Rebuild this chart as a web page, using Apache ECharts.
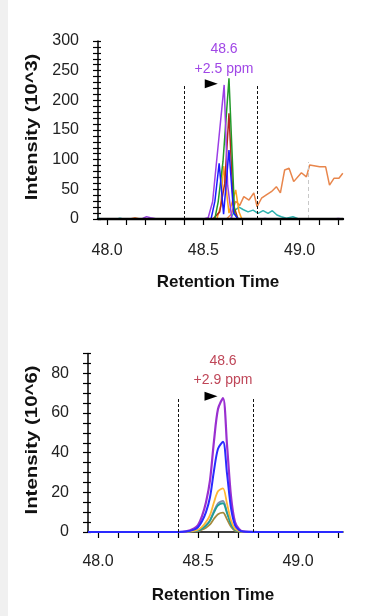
<!DOCTYPE html>
<html>
<head>
<meta charset="utf-8">
<script src="https://cdn.jsdelivr.net/npm/echarts@6/dist/echarts.min.js"></script>
<style>
  html, body { margin: 0; padding: 0; background: #ffffff; }
  #chart { width: 365px; height: 616px; }
</style>
</head>
<body>
<div id="chart"></div>
<script>
// ---- Upper panel: fragment ion chromatograms (intensity in 10^3) ----
const ms2Purple_t = [47.953, 48.15, 48.185, 48.205, 48.225, 48.26, 48.50, 48.525, 48.548, 48.608, 48.626, 48.648, 48.70, 48.80, 48.82, 48.84, 49.18, 49.20, 49.225];
const ms2Purple_v = [0, 0, 1, 4, 2, 0, 0, 2, 29, 226, 57, 0, 0, 0, 1, 0, 0, 1, 0];
const ms2Green_t = [47.953, 48.54, 48.56, 48.577, 48.602, 48.633, 48.662, 48.68, 49.225];
const ms2Green_v = [0, 0, 1, 29, 97, 237, 10, 0, 0];
const ms2Red_t = [47.953, 48.55, 48.585, 48.611, 48.633, 48.655, 48.68, 49.225];
const ms2Red_v = [0, 0, 12, 60, 178, 25, 0, 0];
const ms2Blue_t = [47.953, 48.54, 48.56, 48.582, 48.605, 48.633, 48.657, 48.68, 49.225];
const ms2Blue_v = [0, 0, 30, 94, 8, 116, 10, 0, 0];
const ms2Amber_t = [47.953, 48.57, 48.59, 48.605, 48.633, 48.668, 48.685, 48.70, 49.225];
const ms2Amber_v = [0, 0, 22, 89, 10, 49, 12, 0, 0];
const ms2Sienna_t = [47.953, 48.12, 48.145, 48.17, 48.62, 48.645, 48.668, 48.689, 48.71, 48.737, 48.762, 48.779, 48.802, 48.827, 48.853, 48.879, 48.900, 48.922, 48.945, 48.969, 49.009, 49.035, 49.052, 49.104, 49.135, 49.155, 49.178, 49.204, 49.224];
const ms2Sienna_v = [0, 0, 2, 0, 0, 8, 30, 23, 37.6, 32, 44, 20.7, 35, 40.5, 46, 54.5, 44, 82.6, 85.5, 63, 78, 71, 91, 88, 88, 57, 68.6, 68.6, 77];
const ms2Teal_t = [47.953, 47.965, 48.05, 48.067, 48.085, 48.64, 48.665, 48.685, 48.706, 48.732, 48.758, 48.784, 48.810, 48.836, 48.858, 48.882, 48.905, 48.931, 48.965, 48.995, 49.225];
const ms2Teal_v = [2, 0, 0, 1.5, 0, 0, 15, 20, 16, 12, 15, 9.6, 14, 9.6, 14, 6.7, 3.9, 1.2, 3.9, 0, 0];

// ---- Lower panel: precursor isotope chromatograms (intensity in 10^6) ----
const ms1_t = [47.95, 48.0, 48.1, 48.2, 48.3, 48.4, 48.44, 48.48, 48.5, 48.52, 48.54, 48.56, 48.58, 48.6, 48.625, 48.645, 48.665, 48.685, 48.705, 48.725, 48.8, 48.9, 49.0, 49.1, 49.225];
const ms1Purple_v = [0, 0, 0, 0, 0, 0, 0.3, 1.8, 3.5, 8, 15, 26, 46, 62, 67.5, 44, 18, 5, 1.5, 0.3, 0, 0, 0, 0, 0];
const ms1Blue_v   = [0, 0, 0, 0, 0, 0, 0.2, 1.2, 2.4, 5.4, 10, 17.5, 31, 42, 45.5, 29.5, 12, 3.4, 1, 0.2, 0, 0, 0, 0, 0];
const ms1Amber_v  = [0, 0, 0, 0, 0, 0, 0.1, 0.6, 1.1, 2.6, 5, 8.5, 15, 20.5, 22, 14.3, 5.9, 1.6, 0.5, 0.1, 0, 0, 0, 0, 0];
const ms1Slate_v  = [0, 0, 0, 0, 0, 0, 0.1, 0.4, 0.8, 1.9, 3.5, 6, 10.7, 14.5, 15.7, 10.2, 4.2, 1.2, 0.4, 0.1, 0, 0, 0, 0, 0];
const ms1Teal_v   = [0, 0, 0, 0, 0, 0, 0.1, 0.4, 0.75, 1.7, 3.2, 5.6, 9.9, 13.4, 14.5, 9.5, 3.9, 1.1, 0.3, 0.1, 0, 0, 0, 0, 0];
const ms1Olive_v  = [0, 0, 0, 0, 0, 0, 0, 0.3, 0.5, 1.2, 2.2, 3.8, 6.7, 9, 9.8, 6.4, 2.6, 0.7, 0.2, 0, 0, 0, 0, 0, 0];

// ---- Axis ticks and annotations ----
const rtTicks = [48.0, 48.1, 48.2, 48.3, 48.4, 48.5, 48.6, 48.7, 48.8, 48.9, 49.0, 49.1, 49.2];
const rtLabels = [48.0, 48.5, 49.0];
const topYTicks = [0, 10, 20, 30, 40, 50, 60, 70, 80, 90, 100, 110, 120, 130, 140, 150, 160, 170, 180, 190, 200, 210, 220, 230, 240, 250, 260, 270, 280, 290, 300];
const topYLabels = [0, 50, 100, 150, 200, 250, 300];
const botYTicks = [0, 5, 10, 15, 20, 25, 30, 35, 40, 45, 50, 55, 60, 65, 70, 75, 80, 85, 90];
const botYLabels = [0, 20, 40, 60, 80];
const topWindow = [48.4, 48.78];
const botWindow = [48.4, 48.775];
const topWindowHeight = 226;
const botWindowHeight = 67.5;
const topApexMarker = [48.541, 228];
const botApexMarker = [48.565, 68.5];
const topGuide = [49.043, 96];

const pairs = (t, v) => t.map((x, i) => [x, v[i]]);

const FONT = '"Liberation Sans", Arial, sans-serif';

function xAxisFor(gridIndex, labelMargin, zLevel, lineWidth) {
  return {
    type: 'value', gridIndex, z: zLevel, min: gridIndex === 0 ? 47.953 : 47.95, max: 49.225,
    axisLine: { show: true, onZero: false, lineStyle: { color: '#000', width: lineWidth } },
    axisTick: { show: true, length: 6, customValues: rtTicks, lineStyle: { color: '#000', width: 1.2 } },
    axisLabel: { show: true, customValues: rtLabels, formatter: v => v.toFixed(1), margin: labelMargin,
                 color: '#222', fontSize: 16, fontFamily: FONT },
    splitLine: { show: false }
  };
}
function yAxisFor(gridIndex, max, ticks, labels, inner) {
  return {
    type: 'value', gridIndex, position: 'left', min: 0, max,
    axisLine: { show: !inner, lineStyle: { color: '#000', width: 1.5 } },
    axisTick: { show: true, inside: !!inner, length: inner ? 3 : 5, customValues: ticks, lineStyle: { color: '#000', width: 1.2 } },
    axisLabel: { show: !inner, customValues: labels, margin: 19, color: '#222', fontSize: 16, fontFamily: FONT },
    splitLine: { show: false }
  };
}

const lineSeries = (name, data, color, xi, yi, width, extra) => Object.assign({
  name, type: 'line', data, xAxisIndex: xi, yAxisIndex: yi,
  symbol: 'none', lineStyle: { color, width }, itemStyle: { color },
  animation: false, silent: true, z: 3
}, extra || {});

const windowLines = (win, h, guide) => {
  const d = win.map(x => [{ coord: [x, 0] }, { coord: [x, h] }]);
  if (guide) d.push([{ coord: [guide[0], 0], lineStyle: { color: '#c8c8c8', type: [4, 3], width: 1 } }, { coord: guide }]);
  return {
    symbol: 'none', silent: true, label: { show: false }, animation: false,
    lineStyle: { color: '#111', type: [3, 2], width: 1 }, data: d
  };
};
const apexMarker = (c) => ({
  silent: true, animation: false, label: { show: false },
  data: [{ coord: c, symbol: 'triangle', symbolSize: [9, 13], symbolRotate: -90, itemStyle: { color: '#000' } }]
});

const chart = echarts.init(document.getElementById('chart'), null, { renderer: 'canvas' });
chart.setOption({
  backgroundColor: '#ffffff',
  animation: false,
  grid: [
    { left: 98, right: 22, top: 41, bottom: 397 },
    { left: 88, right: 22, top: 353.5, bottom: 84 }
  ],
  // upper baseline sits above the traces; lower baseline lies under the blue trace
  xAxis: [xAxisFor(0, 24, 10, 2.4), xAxisFor(1, 22, 0, 1.5)],
  yAxis: [
    yAxisFor(0, 300, topYTicks, topYLabels, false),
    yAxisFor(0, 300, topYTicks, topYLabels, true),
    yAxisFor(1, 90, botYTicks, botYLabels, false),
    yAxisFor(1, 90, botYTicks, botYLabels, true)
  ],
  series: [
    lineSeries('sienna', pairs(ms2Sienna_t, ms2Sienna_v), '#e8864c', 0, 0, 1.5, { markLine: windowLines(topWindow, topWindowHeight, topGuide) }),
    lineSeries('teal', pairs(ms2Teal_t, ms2Teal_v), '#2fb3b0', 0, 0, 1.5),
    lineSeries('amber', pairs(ms2Amber_t, ms2Amber_v), '#ffa31a', 0, 0, 1.5),
    lineSeries('red', pairs(ms2Red_t, ms2Red_v), '#b3261e', 0, 0, 1.5),
    lineSeries('green', pairs(ms2Green_t, ms2Green_v), '#229a2a', 0, 0, 1.5),
    lineSeries('purple', pairs(ms2Purple_t, ms2Purple_v), '#9b3fe6', 0, 0, 1.5, { markPoint: apexMarker(topApexMarker) }),
    lineSeries('blue', pairs(ms2Blue_t, ms2Blue_v), '#1a1aff', 0, 0, 1.5),

    lineSeries('olive', pairs(ms1_t, ms1Olive_v), '#a58a3c', 1, 2, 1.8, { smooth: 0.3, markLine: windowLines(botWindow, botWindowHeight) }),
    lineSeries('slate', pairs(ms1_t, ms1Slate_v), '#7f8fb0', 1, 2, 1.8, { smooth: 0.3 }),
    lineSeries('teal6', pairs(ms1_t, ms1Teal_v), '#1f9e96', 1, 2, 1.8, { smooth: 0.3 }),
    lineSeries('amber6', pairs(ms1_t, ms1Amber_v), '#ffb733', 1, 2, 1.8, { smooth: 0.3 }),
    lineSeries('purple6', pairs(ms1_t, ms1Purple_v), '#9a30d0', 1, 2, 2.2, { smooth: 0.3, markPoint: apexMarker(botApexMarker) }),
    lineSeries('blue6', pairs(ms1_t, ms1Blue_v), '#2a2aff', 1, 2, 2, { smooth: 0.3, z: 4 })
  ],
  graphic: [
    { type: 'rect', left: 0, top: 0, shape: { width: 8, height: 616 }, style: { fill: '#f0f0f0' }, silent: true },
    // peak annotations
    { type: 'text', x: 224, y: 49, style: { text: '48.6', fill: '#a047e6', font: '14px ' + FONT, align: 'center', verticalAlign: 'middle' } },
    { type: 'text', x: 224, y: 69, style: { text: '+2.5 ppm', fill: '#a047e6', font: '14px ' + FONT, align: 'center', verticalAlign: 'middle' } },
    { type: 'text', x: 223, y: 361, style: { text: '48.6', fill: '#bf4658', font: '14px ' + FONT, align: 'center', verticalAlign: 'middle' } },
    { type: 'text', x: 223, y: 380, style: { text: '+2.9 ppm', fill: '#bf4658', font: '14px ' + FONT, align: 'center', verticalAlign: 'middle' } },
    // axis titles
    { type: 'text', x: 218, y: 282, style: { text: 'Retention Time', fill: '#111', font: 'bold 17px ' + FONT, align: 'center', verticalAlign: 'middle' } },
    { type: 'text', x: 213, y: 595, style: { text: 'Retention Time', fill: '#111', font: 'bold 17px ' + FONT, align: 'center', verticalAlign: 'middle' } },
    { type: 'text', x: 32, y: 127, rotation: Math.PI / 2, scaleX: 1.18, style: { text: 'Intensity (10^3)', fill: '#111', font: 'bold 17px ' + FONT, align: 'center', verticalAlign: 'middle' } },
    { type: 'text', x: 32, y: 440, rotation: Math.PI / 2, scaleX: 1.2, style: { text: 'Intensity (10^6)', fill: '#111', font: 'bold 17px ' + FONT, align: 'center', verticalAlign: 'middle' } }
  ]
});
</script>
</body>
</html>
